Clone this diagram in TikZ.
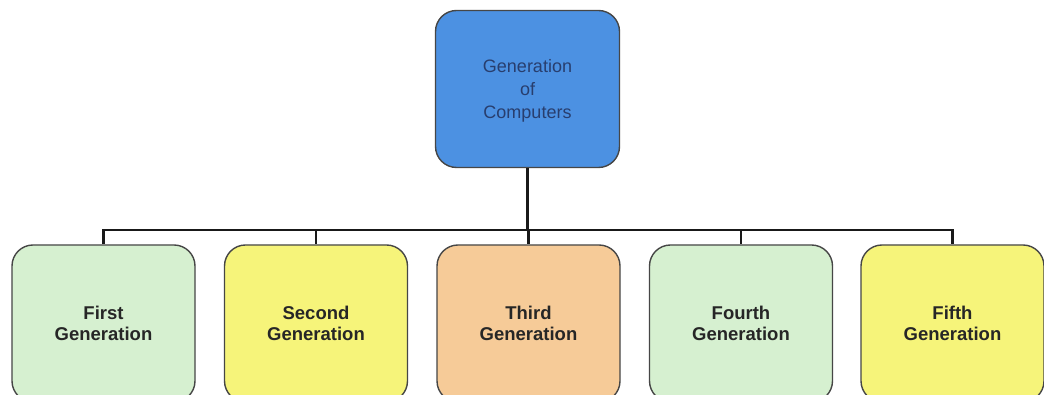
\documentclass[tikz,border=0pt]{standalone}
\usepackage{fontspec}
\setmainfont{Liberation Sans}
\usetikzlibrary{calc}
\definecolor{topblue}{RGB}{76,145,226}
\definecolor{topink}{RGB}{40,62,110}
\definecolor{genA}{RGB}{214,240,208}
\definecolor{genB}{RGB}{246,244,122}
\definecolor{genC}{RGB}{246,203,152}
\definecolor{boxline}{RGB}{70,70,70}
\tikzset{
  genbox/.style={draw=boxline, line width=1.4pt, rounded corners=21pt,
    minimum width=183pt, minimum height=157pt, align=center,
    font=\fontsize{18.5}{21}\selectfont\bfseries, text=black!85},
  headbox/.style={genbox, fill=topblue, minimum width=184pt,
    font=\fontsize{18}{23}\selectfont, text=topink},
  conn/.style={line width=2.6pt, black!90}
}
\begin{document}
\begin{tikzpicture}[x=1pt,y=1pt]
  \useasboundingbox (0,0) rectangle (1044,395);
  \fill[white] (0,0) rectangle (1044,395);
  \node[headbox] (top) at (527.5,306) {};
  \node[font=\fontsize{18}{23}\selectfont, text=topink, align=center]
    (toptext) at (527.5,304) {Generation\\of\\Computers};
  \coordinate (bus) at (0,165);
  \node[genbox, fill=genA] (g1) at (103.5,71.5) {First\\Generation};
  \node[genbox, fill=genB] (g2) at (316,71.5) {Second\\Generation};
  \node[genbox, fill=genC] (g3) at (528.5,71.5) {Third\\Generation};
  \node[genbox, fill=genA] (g4) at (741,71.5) {Fourth\\Generation};
  \node[genbox, fill=genB] (g5) at (952.5,71.5) {Fifth\\Generation};
  \foreach \g in {g1,g2,g3,g4,g5}
    \draw[conn] (top.south) -- (top.south |- bus) -| (\g.north);
\end{tikzpicture}
\end{document}
